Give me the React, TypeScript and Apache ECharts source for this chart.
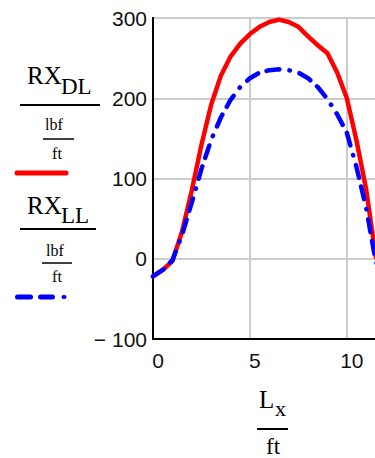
import React, { useEffect, useRef } from "react";
import * as echarts from "echarts";

const xValues = [0, 0.5, 1, 1.5, 2, 2.5, 3, 3.5, 4, 4.5, 5, 5.5, 6, 6.5, 7, 7.5, 8, 8.5, 9, 9.5, 10, 10.5, 11, 11.5, 12, 12.5, 13];
const rxDL = [-22, -14, -3, 34, 85, 142, 192, 228, 252, 268, 280, 289, 295, 298, 295, 289, 277, 266, 256, 232, 200, 147, 86, 2, -15, -22, -24];
const rxLL = [-22, -14, -2, 30, 70, 112, 148, 176, 198, 214, 225, 232, 235, 236, 235, 232, 225, 214, 199, 180, 157, 114, 63, -5, -14, -20, -22];
const yTicks = [-100, 0, 100, 200, 300];
const xTicks = [0, 5, 10];

const SERIF = '"Liberation Serif", "Times New Roman", serif';
const SANS = '"Liberation Sans", Arial, sans-serif';

function txt(text: string, x: number, y: number, size: number, align = "left") {
  return {
    type: "text",
    x,
    y,
    style: {
      text,
      font: `${size}px ${SERIF}`,
      fill: "#000",
      align,
      verticalAlign: "middle",
      textAlign: align,
      textVerticalAlign: "middle",
    },
  };
}

function ln(x1: number, y1: number, x2: number, y2: number, w: number, color = "#000", cap = "butt") {
  return {
    type: "line",
    shape: { x1, y1, x2, y2 },
    style: { stroke: color, lineWidth: w, lineCap: cap },
  };
}

export default function App() {
  const ref = useRef<HTMLDivElement>(null);
  useEffect(() => {
    if (!ref.current) return;
    const chart = echarts.init(ref.current, null, { renderer: "svg" });
    const dl = xValues.map((x, i) => [x, rxDL[i]]);
    const ll = xValues.map((x, i) => [x, rxLL[i]]);
    chart.setOption({
      animation: false,
      grid: {
        left: 153,
        top: 18,
        right: 25,
        bottom: 119,
        show: true,
        borderColor: "#000",
        borderWidth: 2,
        backgroundColor: "transparent",
      },
      xAxis: {
        type: "value",
        min: 0,
        max: 13,
        interval: 5,
        axisLine: { show: true, onZero: false, lineStyle: { color: "#000", width: 2 } },
        axisTick: { show: false },
        splitLine: { show: true, lineStyle: { color: "#cccccc", width: 2 } },
        axisLabel: {
          show: true,
          showMaxLabel: false,
          margin: 11,
          fontFamily: SANS,
          fontSize: 21,
          color: "#111",
          padding: [0, 0, 0, 10],
          formatter: (v: number) => (xTicks.includes(v) ? String(v) : ""),
        },
      },
      yAxis: {
        type: "value",
        min: -100,
        max: 300,
        interval: 100,
        axisLine: { show: true, onZero: false, lineStyle: { color: "#000", width: 2 } },
        axisTick: { show: false },
        splitLine: { show: true, lineStyle: { color: "#cccccc", width: 2 } },
        axisLabel: {
          show: true,
          margin: 6,
          fontFamily: SANS,
          fontSize: 21,
          color: "#111",
          padding: [6, 0, 0, 0],
          formatter: (v: number) =>
            yTicks.includes(v) ? (v < 0 ? "\u2212 " + Math.abs(v) : String(v)) : "",
        },
      },
      series: [
        {
          type: "line",
          data: dl,
          showSymbol: false,
          smooth: false,
          lineStyle: { color: "#ff0000", width: 4.5, cap: "round", join: "round" },
          z: 2,
        },
        {
          type: "line",
          data: ll,
          showSymbol: false,
          smooth: false,
          lineStyle: {
            color: "#0000ff",
            width: 4.5,
            type: [13, 9, 13, 10, 0.5, 10],
            cap: "round",
            join: "round",
          },
          z: 3,
        },
      ],
      graphic: [
        // RX_DL legend
        txt("RX", 27, 75, 25),
        txt("DL", 61, 86, 23),
        ln(20, 105, 100, 105, 2),
        txt("lbf", 54, 124, 16, "center"),
        ln(43, 139, 74, 139, 1.5),
        txt("ft", 57, 153, 16, "center"),
        ln(17, 173, 66, 173, 5, "#ff0000", "round"),
        // RX_LL legend
        txt("RX", 27, 205, 25),
        txt("LL", 61, 215, 23),
        ln(20, 229, 96, 229, 2),
        txt("lbf", 55, 250, 16, "center"),
        ln(42, 263, 72, 263, 1.5),
        txt("ft", 57, 276, 16, "center"),
        ln(17.5, 297, 30.5, 297, 5, "#0000ff", "round"),
        ln(40.5, 297, 52.5, 297, 5, "#0000ff", "round"),
        ln(63.5, 297, 64.5, 297, 4, "#0000ff", "round"),
        // x axis name
        txt("L", 259, 399, 25),
        txt("x", 275, 408, 22),
        ln(257, 429, 288, 429, 2),
        txt("ft", 273, 446, 23, "center"),
      ],
    });
    return () => chart.dispose();
  }, []);
  return (
    <div
      style={{
        position: "fixed",
        left: 0,
        top: 0,
        width: 375,
        height: 458,
        overflow: "hidden",
        background: "#fff",
      }}
    >
      <div ref={ref} style={{ width: 430, height: 458 }} />
    </div>
  );
}
